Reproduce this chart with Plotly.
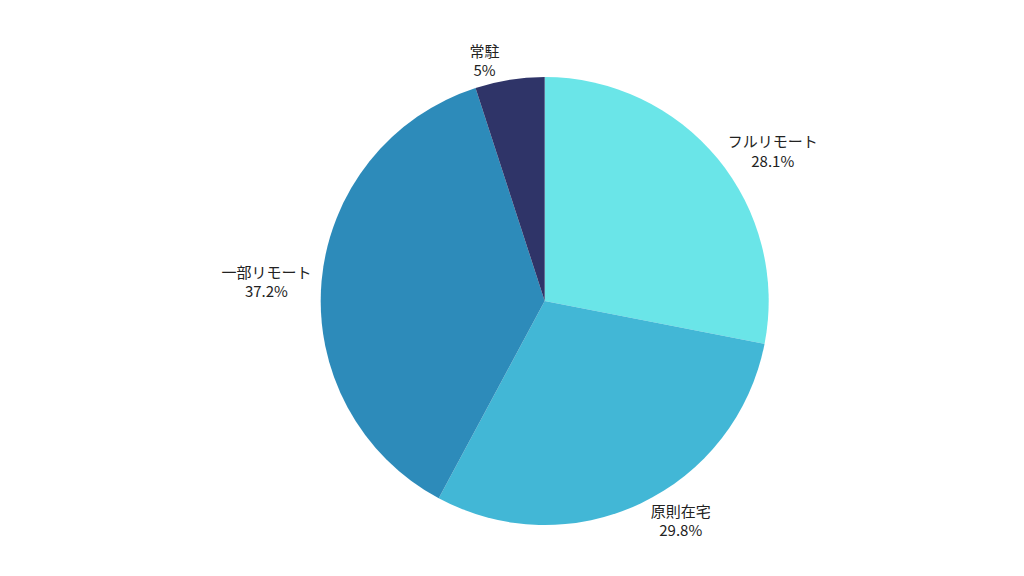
import plotly.graph_objects as go

labels = ["フルリモート", "原則在宅", "一部リモート", "常駐"]
values = [28.1, 29.8, 37.2, 5]
colors = ["#6ae5e8", "#42b7d6", "#2d8bba", "#2f3468"]

fig = go.Figure(go.Pie(
    labels=labels, values=values, sort=False, direction="clockwise", rotation=0,
    marker=dict(colors=colors), textposition="outside",
    texttemplate="%{label}<br>%{value}%", hoverinfo="label+value",
    showlegend=False, domain=dict(x=[0, 0.948])
))
fig.update_traces(outsidetextfont=dict(color="#222222", size=15))
fig.update_layout(
    width=1024, height=576,
    margin=dict(l=0, r=0, t=69, b=59),
    paper_bgcolor="white",
    font=dict(family="Noto Sans CJK JP", size=15, color="#222222"),
    uniformtext=dict(minsize=15),
)
fig.write_html("out.html")
